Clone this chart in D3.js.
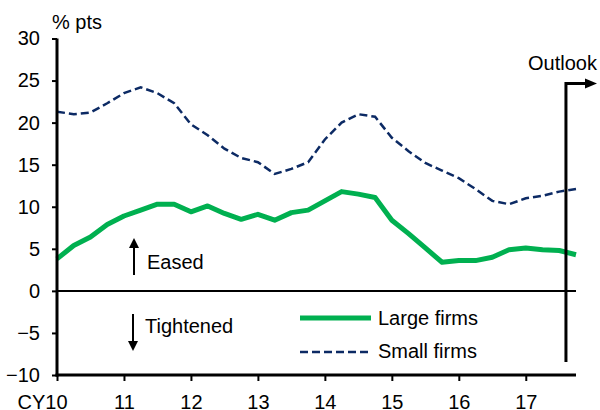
<!DOCTYPE html>
<html>
<head>
<meta charset="utf-8">
<script src="https://cdn.jsdelivr.net/npm/d3@7"></script>
<style>
  body { margin: 0; background: #fff; }
  text { font-family: "Liberation Sans", Arial, sans-serif; font-size: 20px; fill: #000; }
</style>
</head>
<body>
<div id="box"></div>
<script>
// quarterly, CY10 Q1 .. CY17 Q4
var quarters = d3.range(32);
var yearLabels = ["CY10", "11", "12", "13", "14", "15", "16", "17"];
var yTicks = [-10, -5, 0, 5, 10, 15, 20, 25, 30];
var largeFirms = [3.8, 5.4, 6.4, 7.9, 8.9, 9.6, 10.3, 10.3, 9.4, 10.1, 9.2, 8.5, 9.1, 8.4, 9.3, 9.6,
                  10.7, 11.8, 11.5, 11.1, 8.4, 6.8, 5.1, 3.4, 3.6, 3.6, 4.0, 4.9, 5.1, 4.9, 4.8, 4.3];
var smallFirms = [21.3, 21.0, 21.2, 22.3, 23.5, 24.2, 23.5, 22.3, 19.8, 18.5, 16.9, 15.8, 15.3, 13.9, 14.5, 15.3,
                  18.0, 20.0, 21.0, 20.7, 18.2, 16.6, 15.2, 14.3, 13.4, 12.1, 10.7, 10.3, 11.0, 11.3, 11.8, 12.1];

var W = 600, H = 410;
var green = "#00b050", navy = "#0c2a64";

var svg = d3.select("#box").append("svg")
    .attr("width", W)
    .attr("height", H);

var x = d3.scaleLinear().domain([0, 31]).range([57, 576]);
var y = d3.scaleLinear().domain([-10, 30]).range([375, 38.5]);

//Zero line
svg.append("line")
   .attr("x1", x(0)).attr("x2", x(31))
   .attr("y1", y(0)).attr("y2", y(0))
   .style("stroke", "#000").style("stroke-width", 2);

//Lines
var line = d3.line()
    .x(function(d, i) { return x(i); })
    .y(function(d) { return y(d); });

svg.append("path")
   .datum(smallFirms)
   .attr("d", line)
   .style("fill", "none")
   .style("stroke", navy)
   .style("stroke-width", 2.5)
   .style("stroke-dasharray", "8,4");

svg.append("path")
   .datum(largeFirms)
   .attr("d", line)
   .style("fill", "none")
   .style("stroke", green)
   .style("stroke-width", 5)
   .style("stroke-linejoin", "round");

//Y axis
var yAxis = svg.append("g")
    .attr("transform", "translate(" + x(0) + ",0)")
    .call(d3.axisLeft(y).tickValues(yTicks).tickSize(5).tickPadding(12));
yAxis.select(".domain").remove();
yAxis.selectAll(".tick line").style("stroke", "#000").style("stroke-width", 2);
yAxis.selectAll("text")
     .attr("font-family", null).attr("font-size", null)
     .style("fill", "#000");

svg.append("line")
   .attr("x1", x(0)).attr("x2", x(0))
   .attr("y1", y(30)).attr("y2", y(-10) + 1.5)
   .style("stroke", "#000").style("stroke-width", 3);

//X axis
var xAxis = svg.append("g")
    .attr("transform", "translate(0," + y(-10) + ")")
    .call(d3.axisBottom(x)
        .tickValues(yearLabels.map(function(d, i) { return i * 4; }))
        .tickFormat(function(d) { return yearLabels[d / 4]; })
        .tickSize(6).tickPadding(14));
xAxis.select(".domain").remove();
xAxis.selectAll(".tick line").style("stroke", "#000").style("stroke-width", 2);
xAxis.selectAll("text")
     .attr("font-family", null).attr("font-size", null)
     .style("fill", "#000");
xAxis.select(".tick text").attr("dx", -15);

svg.append("line")
   .attr("x1", x(0) - 1.5).attr("x2", x(31))
   .attr("y1", y(-10)).attr("y2", y(-10))
   .style("stroke", "#000").style("stroke-width", 3);

svg.append("text").attr("x", 52).attr("y", 29).text("% pts");

//Outlook marker
var ox = x(30.4);
svg.append("path")
   .attr("d", "M" + ox + "," + 362 + "V" + 83.5 + "H" + 586)
   .style("fill", "none").style("stroke", "#000").style("stroke-width", 3);
svg.append("path")
   .attr("d", "M585,78.5L597,83.5L585,88.5Z")
   .style("fill", "#000");
svg.append("text").attr("x", 597).attr("y", 70).attr("text-anchor", "end").text("Outlook");

//Eased / Tightened arrows
function arrow(x0, yFrom, yTo) {
    var dir = yTo < yFrom ? 1 : -1;
    svg.append("line")
       .attr("x1", x0).attr("x2", x0)
       .attr("y1", yFrom).attr("y2", yTo + dir * 8)
       .style("stroke", "#000").style("stroke-width", 2);
    svg.append("path")
       .attr("d", "M" + (x0 - 5) + "," + (yTo + dir * 10) + "L" + x0 + "," + yTo + "L" + (x0 + 5) + "," + (yTo + dir * 10) + "Z")
       .style("fill", "#000");
}
arrow(134, 275, 238);
svg.append("text").attr("x", 147).attr("y", 268.5).text("Eased");
arrow(133, 314, 351);
svg.append("text").attr("x", 145).attr("y", 333).text("Tightened");

//Legend
svg.append("line")
   .attr("x1", 300).attr("x2", 371).attr("y1", 318).attr("y2", 318)
   .style("stroke", green).style("stroke-width", 5);
svg.append("text").attr("x", 378).attr("y", 325).text("Large firms");
svg.append("line")
   .attr("x1", 300).attr("x2", 371).attr("y1", 352).attr("y2", 352)
   .style("stroke", navy).style("stroke-width", 2.5)
   .style("stroke-dasharray", "8,4");
svg.append("text").attr("x", 378).attr("y", 358).text("Small firms");
</script>
</body>
</html>
